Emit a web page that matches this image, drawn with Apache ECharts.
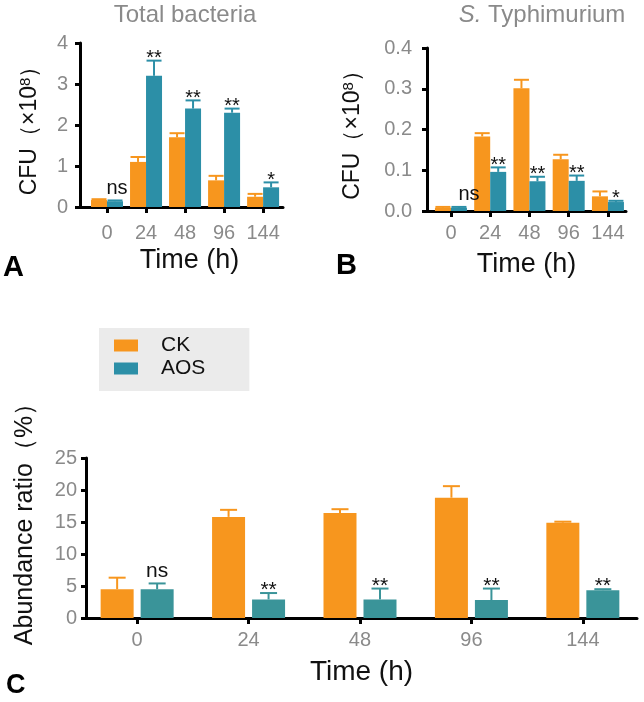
<!DOCTYPE html>
<html>
<head>
<meta charset="utf-8">
<script src="https://cdn.jsdelivr.net/npm/echarts@6/dist/echarts.min.js"></script>
<style>
  html, body { margin: 0; padding: 0; background: #fff; }
  #main { width: 644px; height: 702px; }
</style>
</head>
<body>
<div id="main"></div>
<script>
// time points (h)
var timeLabels = ['0', '24', '48', '96', '144'];

// A: total bacteria, CFU x10^8
var totalCK = [0.17, 1.1, 1.7, 0.65, 0.25];
var totalCKErr = [0.02, 0.12, 0.1, 0.11, 0.07];
var totalAOS = [0.14, 3.2, 2.4, 2.3, 0.48];
var totalAOSErr = [0.02, 0.37, 0.2, 0.1, 0.12];
var totalSig = ['ns', '**', '**', '**', '*'];

// B: S. Typhimurium, CFU x10^8
var typhCK = [0.008, 0.183, 0.301, 0.127, 0.036];
var typhCKErr = [0.002, 0.008, 0.021, 0.011, 0.012];
var typhAOS = [0.008, 0.096, 0.073, 0.074, 0.022];
var typhAOSErr = [0.002, 0.011, 0.011, 0.013, 0.003];
var typhSig = ['ns', '**', '**', '**', '*'];

// C: abundance ratio (%)
var abunCK = [4.5, 15.8, 16.4, 18.8, 14.9];
var abunCKErr = [1.8, 1.1, 0.6, 1.8, 0.15];
var abunAOS = [4.5, 2.9, 2.9, 2.8, 4.35];
var abunAOSErr = [0.9, 1.0, 1.7, 1.8, 0.15];
var abunSig = ['ns', '**', '**', '**', '**'];

var FONT = '"Liberation Sans", Arial, Helvetica, sans-serif';
var ORANGE = '#F7961E';
var TEAL = '#2C8FA7';
var TEAL_C = '#3A9499';
var GRAY = '#8A8A8A';

var myChart = echarts.init(document.getElementById('main'));

function pairs(arr) {
  return arr.map(function (v, i) { return [i, v]; });
}

// one-sided error bar, drawn at the bar's pixel offset
function errRender(offset, capW, color) {
  return function (params, api) {
    var x = api.value(0), m = api.value(1), e = api.value(2);
    var p0 = api.coord([x, m]);
    var p1 = api.coord([x, m + e]);
    var cx = p0[0] + offset;
    return {
      type: 'group',
      children: [
        { type: 'line', shape: { x1: cx, y1: p0[1], x2: cx, y2: p1[1] }, style: { stroke: color, lineWidth: 2 } },
        { type: 'line', shape: { x1: cx - capW / 2, y1: p1[1], x2: cx + capW / 2, y2: p1[1] }, style: { stroke: color, lineWidth: 2 } }
      ]
    };
  };
}

function sigRender(labels, offset, nsShift, size) {
  return function (params, api) {
    var t = labels[params.dataIndex];
    var p = api.coord([api.value(0), api.value(1)]);
    var isNs = t === 'ns';
    return {
      type: 'text',
      style: {
        text: t,
        x: p[0] + offset + (isNs ? nsShift : 0),
        y: p[1] + (isNs ? -2 : 8),
        textAlign: 'center',
        textVerticalAlign: 'bottom',
        fontSize: size,
        fontFamily: FONT,
        fill: '#111'
      }
    };
  };
}

function xAxisCfg(k, min, max, margin, nameSize, namePad) {
  return {
    gridIndex: k, type: 'value', min: min, max: max,
    splitLine: { show: false },
    axisLine: { lineStyle: { color: '#000', width: 3 } },
    axisTick: { customValues: [0, 1, 2, 3, 4], length: 6, lineStyle: { color: '#000', width: 3 } },
    axisLabel: {
      customValues: [0, 1, 2, 3, 4], margin: margin, color: GRAY, fontSize: 20, fontFamily: FONT,
      formatter: function (v) { return timeLabels[v]; }
    },
    name: 'Time (h)', nameLocation: 'middle', nameGap: 40,
    nameTextStyle: { fontSize: nameSize, color: '#111', fontFamily: FONT, padding: namePad }
  };
}

function yAxisCfg(k, max, interval, margin, name, gap, digits, nameSize, namePad) {
  return {
    gridIndex: k, type: 'value', min: 0, max: max, interval: interval,
    splitLine: { show: false },
    axisLine: { show: true, onZero: false, lineStyle: { color: '#000', width: 3 } },
    axisTick: { show: true, length: 5, lineStyle: { color: '#000', width: 3 } },
    axisLabel: {
      margin: margin, color: GRAY, fontSize: 20, fontFamily: FONT,
      formatter: function (v) { return v.toFixed(digits); }
    },
    name: name, nameLocation: 'middle', nameGap: gap,
    nameTextStyle: {
      fontSize: nameSize, color: '#111', fontFamily: FONT, padding: namePad,
      rich: { sup: { fontSize: 15, verticalAlign: 'top', fontFamily: FONT, color: '#111' } }
    }
  };
}

function panelSeries(k, ck, ckErr, aos, aosErr, sig, teal, barW, half, capW, nsShift, sigSize) {
  return [
    { type: 'bar', name: 'CK', xAxisIndex: k, yAxisIndex: k, data: pairs(ck), barWidth: barW,
      barGap: ((2 * half - barW) / barW * 100) + '%', itemStyle: { color: ORANGE } },
    { type: 'bar', name: 'AOS', xAxisIndex: k, yAxisIndex: k, data: pairs(aos), barWidth: barW,
      barGap: ((2 * half - barW) / barW * 100) + '%', itemStyle: { color: teal } },
    { type: 'custom', xAxisIndex: k, yAxisIndex: k, silent: true, z: 3,
      data: ck.map(function (v, i) { return [i, v, ckErr[i]]; }),
      renderItem: errRender(-half, capW, ORANGE) },
    { type: 'custom', xAxisIndex: k, yAxisIndex: k, silent: true, z: 3,
      data: aos.map(function (v, i) { return [i, v, aosErr[i]]; }),
      renderItem: errRender(half, capW, teal) },
    { type: 'custom', xAxisIndex: k, yAxisIndex: k, silent: true, z: 4,
      data: aos.map(function (v, i) { return [i, v + aosErr[i]]; }),
      renderItem: sigRender(sig, half, nsShift, sigSize) }
  ];
}

var option = {
  backgroundColor: '#fff',
  animation: false,
  title: [
    { text: 'Total bacteria', left: 185, top: 3, textAlign: 'center', padding: 0,
      textStyle: { fontSize: 24, fontWeight: 'normal', color: GRAY, fontFamily: FONT } },
    { text: '{i|S.} Typhimurium', left: 542, top: 3, textAlign: 'center', padding: 0,
      textStyle: { fontSize: 24, fontWeight: 'normal', color: GRAY, fontFamily: FONT,
        rich: { i: { fontStyle: 'italic', fontSize: 24, color: GRAY, fontFamily: FONT } } } },
    { text: 'A', left: 3, top: 253, padding: 0, textStyle: { fontSize: 29, fontWeight: 'bold', color: '#000', fontFamily: FONT } },
    { text: 'B', left: 336, top: 251, padding: 0, textStyle: { fontSize: 29, fontWeight: 'bold', color: '#000', fontFamily: FONT } },
    { text: 'C', left: 6, top: 672, padding: 0, textStyle: { fontSize: 27, fontWeight: 'bold', color: '#000', fontFamily: FONT } }
  ],
  legend: {
    orient: 'vertical', left: 99, top: 328, data: ['CK', 'AOS'], icon: 'rect', selectedMode: false,
    itemWidth: 24, itemHeight: 12, itemGap: 2, backgroundColor: '#EBEBEB', borderRadius: 0,
    padding: [7, 44, 12, 15],
    textStyle: { fontSize: 21, lineHeight: 21, color: '#111', fontFamily: FONT, padding: [0, 0, 0, 18] }
  },
  grid: [
    { left: 80, top: 43, width: 203, height: 164 },
    { left: 427, top: 48, width: 199, height: 163 },
    { left: 86, top: 458, width: 551, height: 160 }
  ],
  xAxis: [
    xAxisCfg(0, -0.692, 4.51, 16, 27, [0, 0, 0, 16]),
    xAxisCfg(1, -0.61, 4.46, 12, 27, 0),
    xAxisCfg(2, -0.459, 4.486, 12, 28, 0)
  ],
  yAxis: [
    yAxisCfg(0, 4, 1, 12, 'CFU（×10{sup|8}）', 39, 0, 23, 0),
    yAxisCfg(1, 0.4, 0.1, 15, 'CFU（×10{sup|8}）', 63, 1, 23, 0),
    yAxisCfg(2, 25, 5, 9, 'Abundance ratio（%）', 48, 0, 25, [0, 0, 0, 40])
  ],
  series: [].concat(
    panelSeries(0, totalCK, totalCKErr, totalAOS, totalAOSErr, totalSig, TEAL, 16, 8, 15, 2, 20),
    panelSeries(1, typhCK, typhCKErr, typhAOS, typhAOSErr, typhSig, TEAL, 16, 8, 15, 10, 20),
    panelSeries(2, abunCK, abunCKErr, abunAOS, abunAOSErr, abunSig, TEAL_C, 33, 20, 17, 0, 21)
  )
};

myChart.setOption(option);
</script>
</body>
</html>
